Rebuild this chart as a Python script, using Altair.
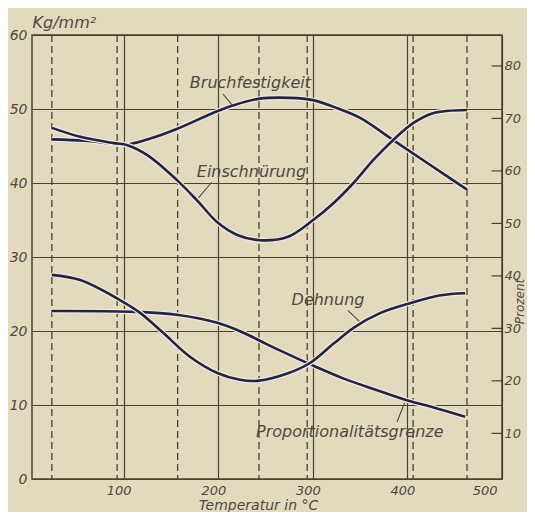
import altair as alt
import pandas as pd

# ---------------- data ----------------
# test temperatures (dashed verticals), °C
test_temps = [24, 93, 157, 243, 294, 406, 463]

# Bruchfestigkeit, kg/mm² (left scale)
bruch_T = [24, 59, 89, 104, 128, 156, 195, 216, 244, 276, 300, 326, 350, 385, 421, 463]
bruch_v = [45.9, 45.7, 45.3, 45.2, 46.0, 47.3, 49.5, 50.5, 51.4, 51.5, 51.2, 50.1, 48.8, 45.8, 42.7, 39.1]

# Proportionalitätsgrenze, kg/mm² (left scale)
prop_T = [24, 107, 156, 199, 226, 250, 273, 297, 332, 368, 403, 427, 461]
prop_v = [22.7, 22.6, 22.2, 21.1, 19.8, 18.3, 16.9, 15.5, 13.6, 12.0, 10.5, 9.7, 8.4]

# Einschnürung, % (right scale)
ein_T = [24, 54, 89, 104, 125, 156, 178, 199, 220, 244, 273, 300, 322, 343, 364, 385, 406, 427, 463]
ein_v = [68.2, 66.5, 65.3, 64.9, 63.0, 58.3, 54.3, 50.2, 47.8, 46.8, 47.4, 50.6, 53.9, 57.7, 62.1, 65.9, 69.1, 71.0, 71.6]

# Dehnung, % (right scale)
deh_T = [24, 54, 96, 117, 142, 170, 199, 223, 241, 273, 297, 322, 343, 371, 403, 435, 461]
deh_v = [40.2, 39.2, 35.4, 33.0, 29.1, 24.6, 21.5, 20.2, 20.0, 21.4, 23.4, 27.1, 30.1, 32.9, 34.8, 36.3, 36.7]

# curve names and their label positions (T, kg/mm²)
label_text = ["Bruchfestigkeit", "Einschnürung", "Dehnung", "Proportionalitätsgrenze"]
label_T = [234, 235, 316, 339]
label_v = [53.5, 41.5, 24.2, 6.4]

# leader strokes from labels to curves (T1, v1, T2, v2) in kg/mm² units
lead_T1 = [205, 193, 337, 397]
lead_v1 = [52.0, 40.1, 22.8, 10.3]
lead_T2 = [215, 179, 350, 389]
lead_v2 = [50.5, 38.0, 21.2, 7.7]

x_ticks = [100, 200, 300, 400, 500]
kg_ticks = [0, 10, 20, 30, 40, 50, 60]
pct_ticks = [10, 20, 30, 40, 50, 60, 70, 80]

# ---------------- styling ----------------
PAPER = "#e3dabe"
INK = "#23234a"
HALO = "#f1ebd9"
GRID = "#48422f"
TXT = "#4d4941"
FONT = "DejaVu Sans"

x_scale = alt.Scale(domain=[3, 500], nice=False, zero=False)
kg_scale = alt.Scale(domain=[0, 60], nice=False)
pct_scale = alt.Scale(domain=[1.3, 85.9], nice=False, zero=False)

x_axis = alt.Axis(values=x_ticks, ticks=False, domain=False, grid=True, gridColor=GRID,
                  gridWidth=1.2, gridOpacity=1, labelFont=FONT, labelFontStyle="italic",
                  labelFontSize=13, labelColor=TXT, labelPadding=5, labelOffset=-5,
                  title="Temperatur in °C", titleFont=FONT, titleFontStyle="italic",
                  titleFontWeight="normal", titleFontSize=14, titleColor=TXT,
                  titleX=226, titleY=26, titleAlign="center", titleBaseline="middle")
kg_axis = alt.Axis(orient="left", values=kg_ticks, ticks=False, domain=False, grid=True,
                   gridColor=GRID, gridWidth=1.2, gridOpacity=1, labelFont=FONT,
                   labelFontStyle="italic", labelFontSize=14, labelColor=TXT, labelPadding=5,
                   title="Kg/mm²", titleFont=FONT, titleFontStyle="italic",
                   titleFontWeight="normal", titleFontSize=16, titleColor=TXT,
                   titleAngle=0, titleX=0, titleY=-13, titleAlign="left",
                   titleBaseline="middle")
pct_axis = alt.Axis(orient="right", values=pct_ticks, ticks=False, domain=False, grid=False,
                    labelFont=FONT, labelFontStyle="italic", labelFontSize=13,
                    labelColor=TXT, labelPadding=2,
                    title="Prozent", titleFont=FONT, titleFontStyle="italic",
                    titleFontWeight="normal", titleFontSize=12, titleColor=TXT,
                    titleAngle=270, titleX=17, titleY=266, titleAlign="center",
                    titleBaseline="middle")


def frame(name, T, v):
    return pd.DataFrame({"T": T, "v": v, "s": name})


kg_df = pd.concat([frame("Bruchfestigkeit", bruch_T, bruch_v),
                   frame("Proportionalitätsgrenze", prop_T, prop_v)])
pct_df = pd.concat([frame("Einschnürung", ein_T, ein_v),
                    frame("Dehnung", deh_T, deh_v)])

X = alt.X("T:Q", scale=x_scale, axis=x_axis)
Ykg = alt.Y("v:Q", scale=kg_scale, axis=kg_axis)
Ypct = alt.Y("v:Q", scale=pct_scale, axis=pct_axis)

dashed = alt.Chart(pd.DataFrame({"T": test_temps})).mark_rule(
    color=GRID, strokeWidth=1.3, strokeDash=[7, 4]).encode(x=X)

kg_halo = alt.Chart(kg_df).mark_line(color=HALO, strokeWidth=5, interpolate="catmull-rom").encode(
    x=X, y=Ykg, detail="s:N")
kg_lines = alt.Chart(kg_df).mark_line(color=INK, strokeWidth=2.6, interpolate="catmull-rom").encode(
    x=X, y=Ykg, detail="s:N")

labels = alt.Chart(pd.DataFrame({"T": label_T, "v": label_v, "t": label_text})).mark_text(
    font=FONT, fontStyle="italic", fontSize=16, color=TXT, align="center",
    baseline="middle").encode(x=X, y=Ykg, text="t:N")

leaders = alt.Chart(pd.DataFrame({"T": lead_T1, "v": lead_v1, "T2": lead_T2, "v2": lead_v2})).mark_rule(
    color=TXT, strokeWidth=1.1).encode(x=X, y=Ykg, x2="T2:Q", y2="v2:Q")

pct_halo = alt.Chart(pct_df).mark_line(color=HALO, strokeWidth=5, interpolate="catmull-rom").encode(
    x=X, y=Ypct, detail="s:N")
pct_lines = alt.Chart(pct_df).mark_line(color=INK, strokeWidth=2.6, interpolate="catmull-rom").encode(
    x=X, y=Ypct, detail="s:N")

pct_marks = alt.Chart(pd.DataFrame({"v": pct_ticks})).mark_rule(
    color=GRID, strokeWidth=1.2).encode(
    y=Ypct,
    x=alt.X(datum=489, type="quantitative", scale=x_scale, axis=x_axis),
    x2=alt.datum(500))

kg_layer = alt.layer(dashed, kg_halo, kg_lines, labels, leaders)
pct_layer = alt.layer(pct_halo, pct_lines, pct_marks)

chart = alt.layer(kg_layer, pct_layer).resolve_scale(y="independent").properties(
    width=470, height=444,
    autosize=alt.AutoSizeParams(type="none"),
    padding={"left": 24, "top": 27, "right": 25, "bottom": 33},
    background=PAPER,
).configure_view(stroke=GRID, strokeWidth=1.5, fill=PAPER)

chart.save("out.html", embed_options={"renderer": "svg", "actions": False})
